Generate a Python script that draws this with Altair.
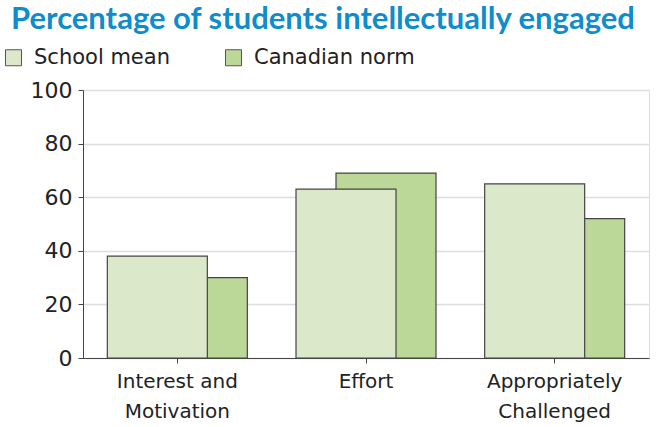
import altair as alt
import pandas as pd

categories = ["Interest and Motivation", "Effort", "Appropriately Challenged"]
school_mean = [38, 63, 65]
canadian_norm = [30, 69, 52]
series = ["School mean", "Canadian norm"]
colors = ["#dce8ca", "#bbd899"]

rows = []
for c, s, n in zip(categories, school_mean, canadian_norm):
    rows.append({"category": c, "series": series[0], "value": s})
    rows.append({"category": c, "series": series[1], "value": n})
df = pd.DataFrame(rows)

label_expr = (
    "datum.label == 'Interest and Motivation' ? ['Interest and', 'Motivation'] : "
    "datum.label == 'Appropriately Challenged' ? ['Appropriately', 'Challenged'] : datum.label"
)

base = alt.Chart(df).encode(
    x=alt.X(
        "category:N",
        sort=categories,
        scale=alt.Scale(paddingInner=0, paddingOuter=0),
        axis=alt.Axis(
            title=None, labelAngle=0, labelExpr=label_expr, labelFont="DejaVu Sans",
            labelFontSize=20, labelColor="#222", labelLineHeight=30, labelPadding=8,
            tickSize=5, tickColor="#444", domainColor="#444", grid=False,
        ),
    ),
    y=alt.Y(
        "value:Q",
        scale=alt.Scale(domain=[0, 100]),
        axis=alt.Axis(
            title=None, values=[0, 20, 40, 60, 80, 100], labelFont="DejaVu Sans",
            labelFontSize=22, labelColor="#222", labelPadding=6, tickSize=5,
            tickColor="#444", domainColor="#444", gridColor="#dddddd", gridWidth=1.5,
        ),
    ),
    color=alt.Color(
        "series:N",
        scale=alt.Scale(domain=series, range=colors),
        legend=alt.Legend(
            title=None, orient="none", direction="horizontal", legendX=-80, legendY=-43,
            symbolType="square", symbolSize=256, symbolStrokeColor="#555",
            symbolStrokeWidth=1, symbolOpacity=1, labelFont="DejaVu Sans", labelFontSize=21,
            labelColor="#222", labelOffset=10, columnPadding=53, padding=0, labelLimit=400,
        ),
    ),
)

dark = base.transform_filter(alt.datum.series == series[1]).mark_bar(
    size=100, xOffset=20, stroke="#444", strokeWidth=1.2, opacity=1
)
light = base.transform_filter(alt.datum.series == series[0]).mark_bar(
    size=100, xOffset=-20, stroke="#444", strokeWidth=1.2, opacity=1
)

chart = alt.layer(dark, light).properties(
    width=566,
    height=268,
    title=alt.Title(
        "Percentage of students intellectually engaged", anchor="start", dx=8,
        font="Lato", fontSize=31, fontWeight="bold", color="#0f8ccb", offset=11,
    ),
    autosize=alt.AutoSizeParams(type="none"),
    padding={"left": 83, "top": 90, "right": 13, "bottom": 69},
).configure_view(stroke="#444", strokeWidth=1.2).configure(background="white")

chart.save("out.html", embed_options={"renderer": "svg", "actions": False})
